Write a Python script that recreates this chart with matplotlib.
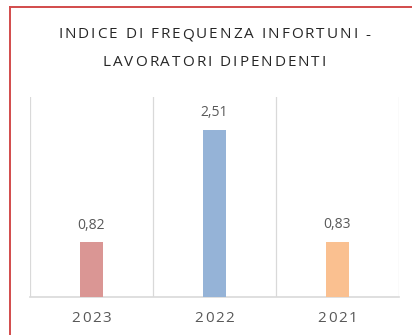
import matplotlib.pyplot as plt
from matplotlib.lines import Line2D
from matplotlib.transforms import Affine2D

anni = ['2023', '2022', '2021']
indice = [0.82, 2.51, 0.83]
colori = ['#DA9694', '#95B3D7', '#FAC090']
etichette = ['0,82', '2,51', '0,83']
titolo = ['INDICE DI FREQUENZA INFORTUNI -', 'LAVORATORI DIPENDENTI']

plt.rcParams['font.family'] = ['Open Sans', 'DejaVu Sans']

fig = plt.figure(figsize=(4.12, 3.35), dpi=100)
ax = fig.add_axes([30 / 412, 38 / 335, 369 / 412, 200 / 335])
rend = fig.canvas.get_renderer()


def larghezza(s, **kw):
    t = fig.text(0, 0, s, **kw)
    w = t.get_window_extent(rend).width
    t.remove()
    return w


def testo_spaziato(s, x, y, transform, spazio, **kw):
    # testo con spaziatura tra i caratteri, centrato su (x, y)
    wx = larghezza('x', **kw)
    pos = [larghezza(s[:i] + 'x', **kw) - wx for i in range(len(s) + 1)]
    tot = pos[-1] + spazio * (len(s) - 1)
    for i, ch in enumerate(s):
        if ch == ' ':
            continue
        dx = pos[i] + i * spazio - tot / 2
        fig.text(x, y, ch, transform=transform + Affine2D().translate(dx, 0),
                 ha='left', va='center', **kw)


x = range(len(anni))
bars = ax.bar(x, indice, width=0.19, color=colori, zorder=3)

for b, lab in zip(bars, etichette):
    ax.annotate(lab, (b.get_x() + b.get_width() / 2, b.get_height()),
                xytext=(0, 7), textcoords='offset points',
                ha='center', va='bottom', fontsize=10, color='#595959')

ax.set_xlim(-0.5, 2.5)
ax.set_ylim(0, 3)
ax.set_yticks([])
ax.set_xticks([])

for i, a in zip(x, anni):
    testo_spaziato(a, i, -0.105, ax.get_xaxis_transform(), 1.7,
                   fontsize=11, color='#595959')

# separatori verticali tra le categorie
for pos in [-0.5, 0.5, 1.5, 2.5]:
    ax.axvline(pos, color='#D9D9D9', lw=0.9, zorder=1)

for s in ['top', 'left', 'right']:
    ax.spines[s].set_visible(False)
ax.spines['bottom'].set_color('#D9D9D9')
ax.spines['bottom'].set_linewidth(1.2)

testo_spaziato(titolo[0], 0.52, 1 - 35 / 335, fig.transFigure, 2.0,
               fontsize=11, color='#262626')
testo_spaziato(titolo[1], 0.52, 1 - 62 / 335, fig.transFigure, 2.0,
               fontsize=11, color='#262626')

# bordo rosso
fig.add_artist(Line2D([9.5 / 412, 9.5 / 412], [0, 1 - 7 / 335],
                      transform=fig.transFigure, color='#D24B4B', lw=1.4))
fig.add_artist(Line2D([9.5 / 412, 1], [1 - 7 / 335, 1 - 7 / 335],
                      transform=fig.transFigure, color='#D24B4B', lw=1.4))

plt.savefig('out.png', dpi=100)
